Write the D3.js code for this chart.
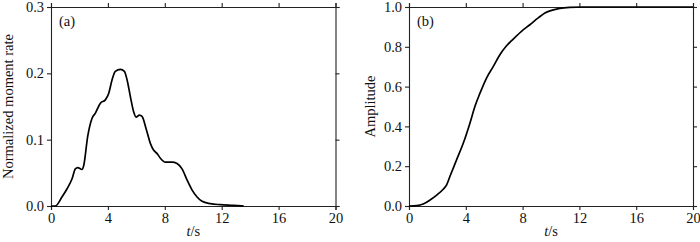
<!DOCTYPE html>
<html><head><meta charset="utf-8">
<script src="https://cdn.jsdelivr.net/npm/d3@7"></script>
<style>
html,body{margin:0;padding:0;background:#fff;}
svg text{font-family:"Liberation Serif","Times New Roman",serif;fill:#111;}
</style></head>
<body><svg id="c" width="700" height="242"></svg>
<script>
// Panel (a): normalized moment rate
const rateT = [0,0.3,0.77,1.13,1.48,1.71,1.88,2.18,2.3,2.58,2.88,3.12,3.47,3.82,4.06,4.29,4.52,4.88,5.16,5.35,5.58,5.81,5.98,6.21,6.4,6.68,6.99,7.22,7.46,7.69,8.04,8.51,8.86,9.21,9.57,9.92,10.27,10.62,11.2,11.9,12.85,13.55];
const rateV = [0,0,0.0136,0.026,0.041,0.056,0.058,0.055,0.061,0.105,0.132,0.140,0.155,0.160,0.170,0.190,0.203,0.206,0.203,0.190,0.165,0.142,0.134,0.137,0.135,0.117,0.094,0.084,0.079,0.072,0.066,0.066,0.064,0.056,0.039,0.024,0.0136,0.007,0.0035,0.002,0.001,0];
// Panel (b): cumulative amplitude
const ampT = [0,0.54,1.0,1.48,1.95,2.41,2.65,2.88,3.35,3.82,4.29,4.64,5.0,5.46,5.93,6.4,6.87,7.34,7.92,8.51,9.1,9.57,10.04,10.62,11.3,12.26,14,16,18,20];
const ampV = [0,0.002,0.01,0.03,0.055,0.084,0.106,0.148,0.232,0.315,0.416,0.5,0.567,0.643,0.70,0.76,0.805,0.839,0.878,0.911,0.945,0.97,0.983,0.993,0.998,1.0,1.0,1.0,1.0,1.0];

const xTicks = [0,4,8,12,16,20];
const yTicksA = [0,0.1,0.2,0.3];
const yTicksB = [0,0.2,0.4,0.6,0.8,1.0];

const svg = d3.select("#c");

function panel(opt){
  const {left,right,top,bottom,ymax,yTicks,t,v,label,ylab,ylabX} = opt;
  const x = d3.scaleLinear().domain([0,20]).range([left,right]);
  const y = d3.scaleLinear().domain([0,ymax]).range([bottom,top]);
  const g = svg.append("g");
  const fmt = d3.format(".1f");
  const styleAxis = sel => {
    sel.select(".domain").attr("stroke","#222").attr("stroke-width",1.1);
    sel.selectAll(".tick line").attr("stroke","#222").attr("stroke-width",1.1);
    sel.selectAll("text").attr("font-size","14.5px").attr("font-family","Liberation Serif, Times New Roman, serif").attr("fill","#111");
  };
  g.append("g").attr("transform",`translate(0,${bottom})`)
    .call(d3.axisBottom(x).tickValues(xTicks).tickSize(4).tickPadding(3).tickFormat(d3.format("d")))
    .call(styleAxis);
  g.append("g").attr("transform",`translate(0,${top})`)
    .call(d3.axisTop(x).tickValues(xTicks).tickSize(4).tickFormat(""))
    .call(styleAxis);
  g.append("g").attr("transform",`translate(${left},0)`)
    .call(d3.axisLeft(y).tickValues(yTicks).tickSize(4).tickPadding(3).tickFormat(fmt))
    .call(styleAxis);
  g.append("g").attr("transform",`translate(${right},0)`)
    .call(d3.axisRight(y).tickValues(yTicks).tickSize(4).tickFormat(""))
    .call(styleAxis);
  g.selectAll(".domain").attr("d", function(){ return d3.select(this).attr("d"); });

  const line = d3.line().x((d,i)=>x(t[i])).y((d,i)=>y(v[i])).curve(d3.curveMonotoneX);
  g.append("path").datum(v).attr("d",line).attr("fill","none").attr("stroke","#000").attr("stroke-width",1.7).attr("stroke-linejoin","round");

  g.append("text").attr("x",left+8).attr("y",top+19).attr("font-size","14.5px").text(label);
  const xl = g.append("text").attr("x",(left+right)/2).attr("y",236).attr("text-anchor","middle").attr("font-size","14.5px");
  xl.append("tspan").attr("font-style","italic").text("t");
  xl.append("tspan").text("/s");
  g.append("text").attr("transform",`translate(${ylabX},${(top+bottom)/2}) rotate(-90)`)
    .attr("text-anchor","middle").attr("dy","0.35em").attr("font-size","14.5px").text(ylab);
}

panel({left:51,right:335.5,top:7,bottom:206,ymax:0.3,yTicks:yTicksA,t:rateT,v:rateV,label:"(a)",ylab:"Normalized moment rate",ylabX:8});
panel({left:409,right:693,top:7,bottom:206,ymax:1.0,yTicks:yTicksB,t:ampT,v:ampV,label:"(b)",ylab:"Amplitude",ylabX:370});
</script></body></html>
